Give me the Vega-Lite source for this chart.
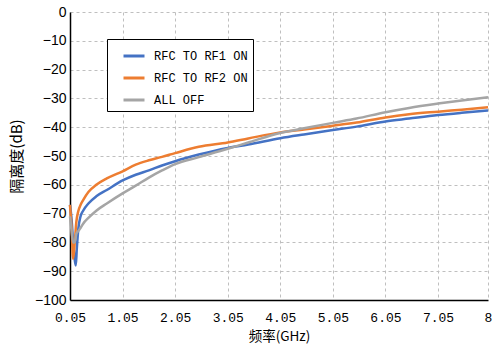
{
  "$schema": "https://vega.github.io/schema/vega-lite/v6.json",
  "width": 418,
  "height": 288,
  "autosize": "none",
  "padding": {"left": 70, "top": 12, "right": 4, "bottom": 46},
  "background": "white",
  "config": {"view": {"stroke": null}},
  "datasets": {
    "d": [
      {"f": 0.05, "v": -67, "s": "RFC TO RF1 ON"},
      {"f": 0.08, "v": -72, "s": "RFC TO RF1 ON"},
      {"f": 0.11, "v": -80, "s": "RFC TO RF1 ON"},
      {"f": 0.14, "v": -86, "s": "RFC TO RF1 ON"},
      {"f": 0.16, "v": -88, "s": "RFC TO RF1 ON"},
      {"f": 0.18, "v": -82, "s": "RFC TO RF1 ON"},
      {"f": 0.21, "v": -75, "s": "RFC TO RF1 ON"},
      {"f": 0.25, "v": -71, "s": "RFC TO RF1 ON"},
      {"f": 0.3, "v": -69, "s": "RFC TO RF1 ON"},
      {"f": 0.4, "v": -66.5, "s": "RFC TO RF1 ON"},
      {"f": 0.55, "v": -64, "s": "RFC TO RF1 ON"},
      {"f": 0.75, "v": -61.8, "s": "RFC TO RF1 ON"},
      {"f": 1.05, "v": -58.5, "s": "RFC TO RF1 ON"},
      {"f": 1.3, "v": -56.5, "s": "RFC TO RF1 ON"},
      {"f": 1.55, "v": -55, "s": "RFC TO RF1 ON"},
      {"f": 1.8, "v": -53.3, "s": "RFC TO RF1 ON"},
      {"f": 2.05, "v": -51.8, "s": "RFC TO RF1 ON"},
      {"f": 2.5, "v": -49.5, "s": "RFC TO RF1 ON"},
      {"f": 3.05, "v": -47.2, "s": "RFC TO RF1 ON"},
      {"f": 3.44, "v": -46, "s": "RFC TO RF1 ON"},
      {"f": 4.05, "v": -43.8, "s": "RFC TO RF1 ON"},
      {"f": 4.5, "v": -42.5, "s": "RFC TO RF1 ON"},
      {"f": 5.05, "v": -41, "s": "RFC TO RF1 ON"},
      {"f": 5.5, "v": -39.8, "s": "RFC TO RF1 ON"},
      {"f": 6.05, "v": -38, "s": "RFC TO RF1 ON"},
      {"f": 6.5, "v": -37, "s": "RFC TO RF1 ON"},
      {"f": 7.05, "v": -35.8, "s": "RFC TO RF1 ON"},
      {"f": 7.5, "v": -35, "s": "RFC TO RF1 ON"},
      {"f": 8, "v": -34.2, "s": "RFC TO RF1 ON"},

      {"f": 0.05, "v": -67, "s": "RFC TO RF2 ON"},
      {"f": 0.08, "v": -75, "s": "RFC TO RF2 ON"},
      {"f": 0.11, "v": -85.7, "s": "RFC TO RF2 ON"},
      {"f": 0.14, "v": -80, "s": "RFC TO RF2 ON"},
      {"f": 0.17, "v": -73, "s": "RFC TO RF2 ON"},
      {"f": 0.21, "v": -69, "s": "RFC TO RF2 ON"},
      {"f": 0.25, "v": -67, "s": "RFC TO RF2 ON"},
      {"f": 0.3, "v": -65.3, "s": "RFC TO RF2 ON"},
      {"f": 0.4, "v": -62.5, "s": "RFC TO RF2 ON"},
      {"f": 0.55, "v": -60, "s": "RFC TO RF2 ON"},
      {"f": 0.75, "v": -57.8, "s": "RFC TO RF2 ON"},
      {"f": 1.05, "v": -55.3, "s": "RFC TO RF2 ON"},
      {"f": 1.3, "v": -53, "s": "RFC TO RF2 ON"},
      {"f": 1.55, "v": -51.5, "s": "RFC TO RF2 ON"},
      {"f": 1.8, "v": -50.3, "s": "RFC TO RF2 ON"},
      {"f": 2.05, "v": -49, "s": "RFC TO RF2 ON"},
      {"f": 2.5, "v": -46.8, "s": "RFC TO RF2 ON"},
      {"f": 3.05, "v": -45.3, "s": "RFC TO RF2 ON"},
      {"f": 3.44, "v": -43.9, "s": "RFC TO RF2 ON"},
      {"f": 4.05, "v": -41.8, "s": "RFC TO RF2 ON"},
      {"f": 4.5, "v": -40.8, "s": "RFC TO RF2 ON"},
      {"f": 5.05, "v": -39.5, "s": "RFC TO RF2 ON"},
      {"f": 5.5, "v": -38.4, "s": "RFC TO RF2 ON"},
      {"f": 6.05, "v": -36.6, "s": "RFC TO RF2 ON"},
      {"f": 6.5, "v": -35.5, "s": "RFC TO RF2 ON"},
      {"f": 7.05, "v": -34.6, "s": "RFC TO RF2 ON"},
      {"f": 7.5, "v": -33.9, "s": "RFC TO RF2 ON"},
      {"f": 8, "v": -33.1, "s": "RFC TO RF2 ON"},

      {"f": 0.05, "v": -71, "s": "ALL OFF"},
      {"f": 0.08, "v": -76, "s": "ALL OFF"},
      {"f": 0.11, "v": -80, "s": "ALL OFF"},
      {"f": 0.14, "v": -80, "s": "ALL OFF"},
      {"f": 0.17, "v": -77, "s": "ALL OFF"},
      {"f": 0.21, "v": -76, "s": "ALL OFF"},
      {"f": 0.25, "v": -75, "s": "ALL OFF"},
      {"f": 0.3, "v": -73.5, "s": "ALL OFF"},
      {"f": 0.4, "v": -71.5, "s": "ALL OFF"},
      {"f": 0.55, "v": -69, "s": "ALL OFF"},
      {"f": 0.75, "v": -66.5, "s": "ALL OFF"},
      {"f": 1.05, "v": -63, "s": "ALL OFF"},
      {"f": 1.3, "v": -60.3, "s": "ALL OFF"},
      {"f": 1.55, "v": -57.5, "s": "ALL OFF"},
      {"f": 1.8, "v": -55, "s": "ALL OFF"},
      {"f": 2.05, "v": -52.8, "s": "ALL OFF"},
      {"f": 2.5, "v": -50.4, "s": "ALL OFF"},
      {"f": 3.05, "v": -47.5, "s": "ALL OFF"},
      {"f": 3.44, "v": -45.3, "s": "ALL OFF"},
      {"f": 4.05, "v": -42, "s": "ALL OFF"},
      {"f": 4.5, "v": -40.4, "s": "ALL OFF"},
      {"f": 5.05, "v": -38.5, "s": "ALL OFF"},
      {"f": 5.5, "v": -37, "s": "ALL OFF"},
      {"f": 6.05, "v": -34.8, "s": "ALL OFF"},
      {"f": 6.5, "v": -33.3, "s": "ALL OFF"},
      {"f": 7.05, "v": -31.8, "s": "ALL OFF"},
      {"f": 7.5, "v": -30.7, "s": "ALL OFF"},
      {"f": 8, "v": -29.6, "s": "ALL OFF"}
    ]
  },
  "data": {"name": "d"},
  "mark": {"type": "line", "strokeWidth": 2.5, "interpolate": "monotone"},
  "encoding": {
    "x": {
      "field": "f", "type": "quantitative",
      "scale": {"domain": [0.05, 8], "nice": false, "zero": false},
      "axis": {
        "title": "频率(GHz)",
        "values": [0.05, 1.05, 2.05, 3.05, 4.05, 5.05, 6.05, 7.05, 8],
        "labelExpr": "datum.value == 8 ? '8' : format(datum.value, '.2f')",
        "labelFont": "Liberation Mono", "labelFontSize": 13, "labelColor": "#000",
        "labelPadding": 11, "labelFlush": false, "labelOverlap": false,
        "ticks": false,
        "domainColor": "#000", "domainWidth": 1.5,
        "grid": true, "gridColor": "#bfbfbf", "gridDash": [3, 3], "gridWidth": 1,
        "titleFont": "Noto Sans CJK SC", "titleFontSize": 13.5, "titleFontWeight": "normal",
        "titleColor": "#000", "titlePadding": 5
      }
    },
    "y": {
      "field": "v", "type": "quantitative",
      "scale": {"domain": [-100, 0], "nice": false},
      "axis": {
        "title": "隔离度(dB)",
        "values": [-100, -90, -80, -70, -60, -50, -40, -30, -20, -10, 0],
        "labelFont": "Liberation Sans", "labelFontSize": 14, "labelColor": "#000",
        "labelPadding": 4,
        "ticks": false,
        "domainColor": "#000", "domainWidth": 1.5,
        "grid": true, "gridColor": "#bfbfbf", "gridDash": [3, 3], "gridWidth": 1,
        "titleFont": "Noto Sans CJK SC", "titleFontSize": 15, "titleFontWeight": "normal",
        "titleColor": "#000", "titlePadding": 10
      }
    },
    "color": {
      "field": "s", "type": "nominal",
      "scale": {
        "domain": ["RFC TO RF1 ON", "RFC TO RF2 ON", "ALL OFF"],
        "range": ["#4472C4", "#ED7D31", "#A5A5A5"]
      },
      "legend": {
        "title": null,
        "orient": "none", "legendX": 37, "legendY": 27,
        "symbolType": "stroke", "symbolStrokeWidth": 3, "symbolSize": 441,
        "symbolOffset": 10,
        "labelFont": "Liberation Mono", "labelFontSize": 12, "labelColor": "#000",
        "labelOffset": 8,
        "rowPadding": 4, "padding": 5,
        "strokeColor": "#000", "fillColor": "#fff",
        "labelLimit": 300
      }
    }
  }
}
